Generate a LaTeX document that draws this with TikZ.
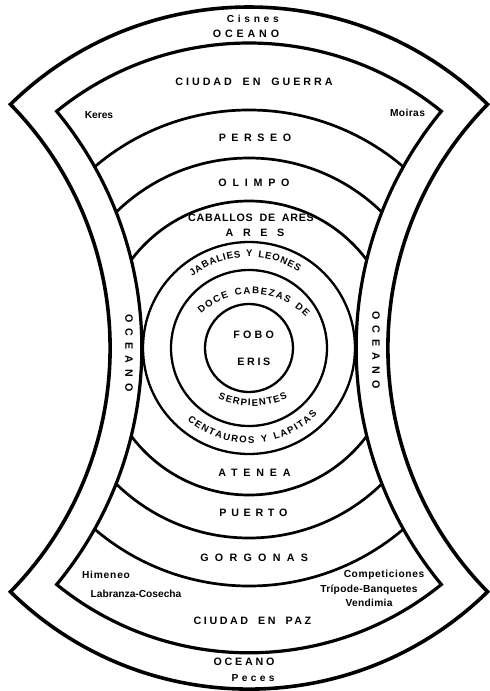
\documentclass[tikz,border=0pt]{standalone}
\usepackage{fontspec}
\setmainfont{Liberation Sans}
\newfontfamily\lbl{Liberation Sans}
\newfontfamily\capf{Liberation Sans}[WordSpace=1.8]
\newfontfamily\arcf{Liberation Sans}[WordSpace=1.5]
\usetikzlibrary{decorations.text}
\tikzset{
  outerband/.style={line width=3.6pt, line join=miter},
  innerband/.style={line width=3.2pt, line join=miter},
  ring/.style={line width=2.7pt},
  circ/.style={line width=2.3pt},
  capl/.style={inner sep=0pt, font=\capf\bfseries\fontsize{10.7}{12}\selectfont\addfontfeature{LetterSpace=#1}},
  smalll/.style={inner sep=0pt, font=\lbl\bfseries\fontsize{10.2}{12}\selectfont\addfontfeature{LetterSpace=#1}},
  arctext/.style={decorate, decoration={text along path, text align={fit to path}, text={|\arcf\bfseries\fontsize{9.6}{12}\selectfont|#1}}},
}
\begin{document}
\begin{tikzpicture}[x=1pt,y=1pt]
\useasboundingbox (-249,-343) rectangle (241,348);
\fill[white] (-249,-343) rectangle (241,348);

% rings clipped to the inner region
\begin{scope}
\clip (129.1:305) arc[start angle=129.1,end angle=50.9,radius=305]
  arc[start angle=140.4,end angle=219.6,radius=371.2]
  arc[start angle=-50.9,end angle=-129.1,radius=305]
  arc[start angle=-39.6,end angle=39.6,radius=371.2] -- cycle;
\draw[ring] (0,0) circle[radius=238];
\draw[ring] (0,0) circle[radius=190];
\draw[ring] (0,0) circle[radius=147];
\end{scope}

\draw[circ] (0,0) circle[radius=106];
\draw[circ] (0,0) circle[radius=78];
\draw[circ] (0,0) circle[radius=44];

% outer ocean band
\draw[outerband] (134.4:341) arc[start angle=134.4,end angle=45.6,radius=341]
  arc[start angle=135.5,end angle=224.5,radius=347.7]
  arc[start angle=-45.6,end angle=-134.4,radius=341]
  arc[start angle=-44.5,end angle=44.5,radius=347.7] -- cycle;
% inner boundary
\draw[innerband] (129.1:305) arc[start angle=129.1,end angle=50.9,radius=305]
  arc[start angle=140.4,end angle=219.6,radius=371.2]
  arc[start angle=-50.9,end angle=-129.1,radius=305]
  arc[start angle=-39.6,end angle=39.6,radius=371.2] -- cycle;

% straight labels
\node[smalll=36] (cisnes) at (3.8,329) {Cisnes};
\node[capl=36] (oceanoT) at (-3,314) {OCEANO};
\node[capl=28] (guerra) at (5,266) {CIUDAD EN GUERRA};
\node[smalll=0] (keres) at (-150,233) {Keres};
\node[smalll=4] (moiras) at (158.5,235) {Moiras};
\node[capl=52] (perseo) at (6,210) {PERSEO};
\node[capl=54] (olimpo) at (5,165) {OLIMPO};
\node[capl=7] (caballos) at (2,130) {CABALLOS DE ARES};
\node[capl=90] (ares) at (6,115) {ARES};
\node[capl=30] (fobo) at (4.6,13) {FOBO};
\node[capl=25] (eris) at (4.8,-14) {ERIS};
\node[capl=54] (atenea) at (5.5,-125) {ATENEA};
\node[capl=44] (puerto) at (4.4,-165) {PUERTO};
\node[capl=59] (gorgonas) at (5.2,-210) {GORGONAS};
\node[smalll=8] (himeneo) at (-143,-227) {Himeneo};
\node[smalll=0] (labranza) at (-113,-246) {Labranza-Cosecha};
\node[smalll=6] (competiciones) at (135,-227) {Competiciones};
\node[smalll=3] (tripode) at (120,-242) {Trípode-Banquetes};
\node[smalll=3] (vendimia) at (120,-255) {Vendimia};
\node[capl=24] (paz) at (3.5,-273) {CIUDAD EN PAZ};
\node[capl=26] (oceanoB) at (-5,-314) {OCEANO};
\node[smalll=33] (peces) at (4.2,-330) {Peces};
\node[capl=56, rotate=-90] (oceanoL) at (-120,-5) {OCEANO};
\node[capl=56, rotate=-90] (oceanoR) at (127,-2) {OCEANO};

% curved labels
\path[arctext={JABALIES Y LEONES}] (128.5:91) arc[start angle=128.5,end angle=57,radius=91];
\path[arctext={DOCE CABEZAS DE}] (-47.77,34.20) arc[start angle=132.6,end angle=44,radius=75];
\path[arctext={SERPIENTES}] (-31.0,-50.9) arc[start angle=246.4,end angle=294.7,radius=85];
\path[arctext={CENTAUROS Y LAPITAS}] (229.5:95) arc[start angle=229.5,end angle=315.8,radius=95];
\end{tikzpicture}
\end{document}
